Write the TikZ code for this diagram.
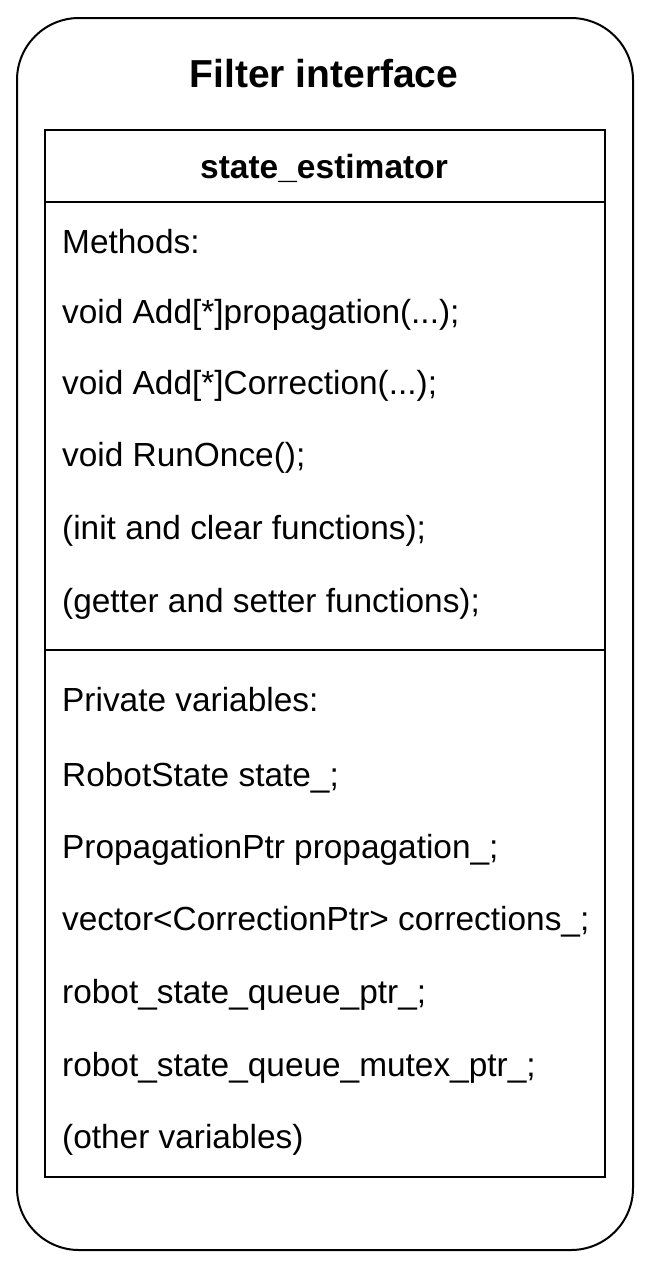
\documentclass[tikz,border=0pt]{standalone}
\usepackage{fontspec}
\setmainfont{Liberation Sans}
\begin{document}
\begin{tikzpicture}[x=1pt,y=-1pt,
  item/.style={anchor=west,inner sep=0pt,font=\fontsize{33.4}{38}\selectfont},
  title/.style={inner sep=0pt,font=\fontsize{39}{44}\selectfont\bfseries},
  head/.style={inner sep=0pt,font=\fontsize{33.5}{38}\selectfont\bfseries},
  frame/.style={draw=black,line width=2pt}]
\useasboundingbox (0,0) rectangle (648,1280);
\fill[white] (0,0) rectangle (648,1280);
\draw[frame,rounded corners=62pt] (17,18) rectangle (633,1250);
\node[title] (t) at (324,74) {Filter interface};
\draw[frame] (45,130) rectangle (605,1177);
\draw[frame] (45,202) -- (605,202);
\draw[frame] (45,650) -- (605,650);
\node[head] (h) at (324,168) {state\_estimator};
\node[item] (m0) at (62,242) {Methods:};
\node[item] (m1) at (62,315) {void Add[*]propagation(...);};
\node[item] (m2) at (62,386) {void Add[*]Correction(...);};
\node[item] (m3) at (62,458) {void RunOnce();};
\node[item] (m4) at (62,531) {(init and clear functions);};
\node[item] (m5) at (62,604) {(getter and setter functions);};
\node[item] (v0) at (62,700) {Private variables:};
\node[item] (v1) at (62,778) {RobotState state\_;};
\node[item] (v2) at (62,850) {PropagationPtr propagation\_;};
\node[item] (v3) at (62,922) {vector<CorrectionPtr> corrections\_;};
\node[item] (v4) at (62,995) {robot\_state\_queue\_ptr\_;};
\node[item] (v5) at (62,1068) {robot\_state\_queue\_mutex\_ptr\_;};
\node[item] (v6) at (62,1140) {(other variables)};
\end{tikzpicture}
\end{document}
